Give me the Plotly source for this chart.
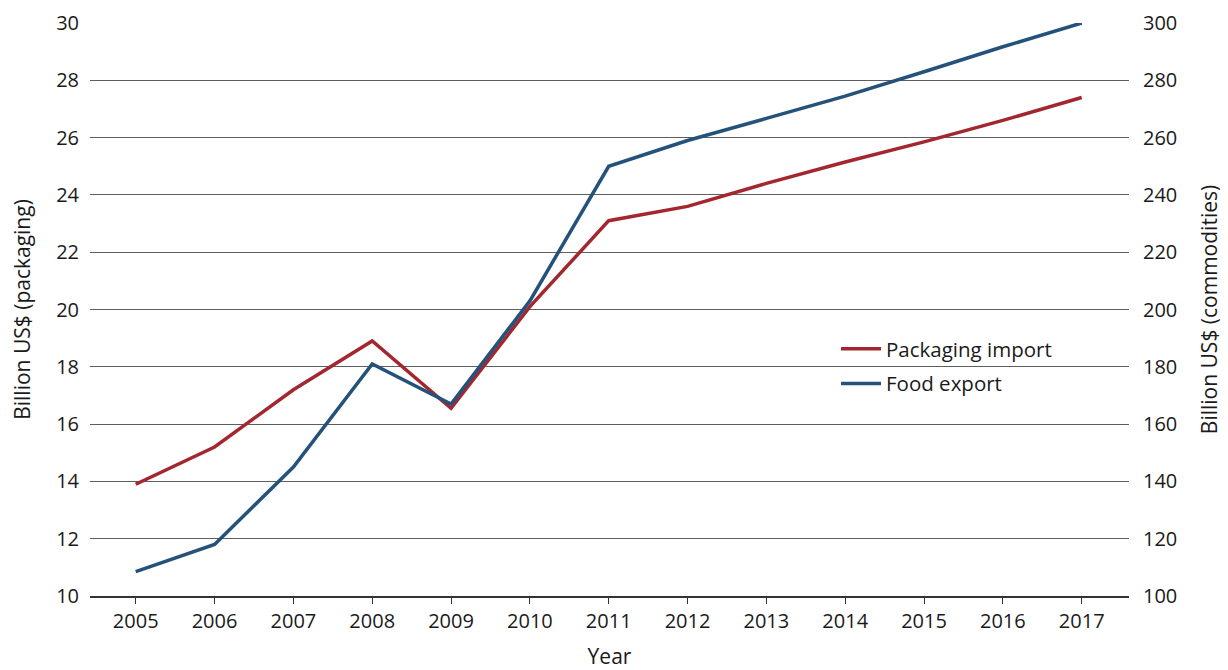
import plotly.graph_objects as go

years = [2005, 2006, 2007, 2008, 2009, 2010, 2011, 2012, 2013, 2014, 2015, 2016, 2017]
packaging_import = [13.9, 15.2, 17.2, 18.9, 16.55, 20.1, 23.1, 23.6, 24.4, 25.15, 25.85, 26.6, 27.4]
food_export = [108.5, 118, 145, 181, 167, 203, 250, 259, 266.7, 274.5, 283, 291.7, 300]

red = "#A3272F"
blue = "#24527A"
font_family = "Open Sans, Noto Sans, sans-serif"

fig = go.Figure()
fig.add_trace(go.Scatter(x=years, y=packaging_import, name="Packaging import",
                         legendgroup="a",
                         mode="lines", line=dict(color=red, width=3.5), yaxis="y"))
fig.add_trace(go.Scatter(x=years, y=food_export, name="Food export",
                         legendgroup="b",
                         mode="lines", line=dict(color=blue, width=3.5), yaxis="y2"))

fig.update_layout(
    width=1220, height=662,
    margin=dict(l=82, r=99, t=15, b=74, autoexpand=False),
    paper_bgcolor="white", plot_bgcolor="white",
    font=dict(family=font_family, size=20, color="#1a1a1a"),
    showlegend=True,
    legend=dict(x=0.718, y=0.466, xanchor="left", yanchor="top",
                bgcolor="rgba(0,0,0,0)", font=dict(size=20.5),
                traceorder="grouped", tracegroupgap=5, itemwidth=40),
    xaxis=dict(range=[2004.42, 2017.6], tickmode="array", tickvals=years,
               ticktext=[str(y) for y in years], showgrid=False, zeroline=False,
               showline=True, linecolor="#333333", linewidth=1.5,
               ticks="outside", ticklen=6, tickcolor="#333333",
               automargin=False, ticklabelstandoff=0,
               title=dict(text="Year", standoff=19, font=dict(size=21))),
    yaxis=dict(range=[10, 30], dtick=2, showgrid=True, gridcolor="#5e5e5e",
               gridwidth=1.3, zeroline=False, showline=False, ticks="",
               automargin=False, ticklabelstandoff=10,
               title=dict(text="Billion US$ (packaging)", standoff=27, font=dict(size=21))),
    yaxis2=dict(range=[100, 300], dtick=20, overlaying="y", side="right",
                showgrid=False, zeroline=False, showline=False, ticks="",
                automargin=False, ticklabelstandoff=13,
                title=dict(text="Billion US$ (commodities)", standoff=25, font=dict(size=21))),
)

fig.write_html("out.html")
